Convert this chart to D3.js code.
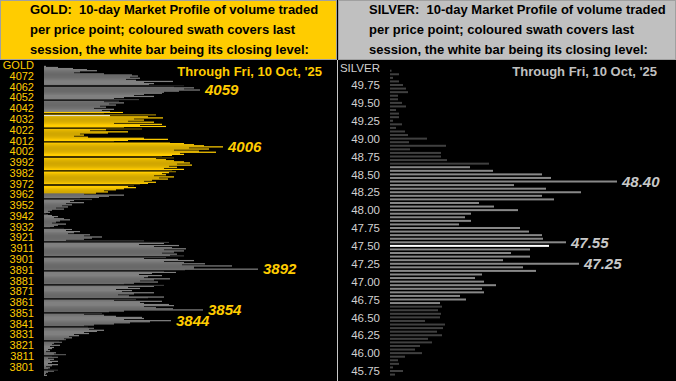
<!DOCTYPE html>
<html><head><meta charset="utf-8">
<script src="https://cdn.jsdelivr.net/npm/d3@7/dist/d3.min.js"></script>
<style>html,body{margin:0;padding:0;background:#000;}svg{display:block;font-family:Arial,"Liberation Sans",sans-serif;}</style>
</head><body><svg id="c" width="676" height="381"></svg>
<script>
// ---------- DATA ----------
const goldTop = 4081, goldBottom = 3793; // one bar per $1
const goldVolume = [
 2,14,29,43,53,36,30,60,88,94,
 86,96,82,92,129,100,110,105,140,130,
 150,140,156,135,120,118,100,90,110,80,
 70,95,75,60,80,65,72,56,62,50,
 70,58,66,79,60,112,66,104,119,90,
 100,84,110,70,118,96,122,80,98,62,
 46,84,64,36,40,30,44,100,124,84,
 70,126,140,150,160,179,145,165,130,155,
 172,136,140,128,118,130,112,122,130,140,
 146,133,148,125,133,120,140,128,132,125,
 118,122,110,130,115,124,108,100,112,104,
 96,90,84,92,80,72,60,64,52,40,
 80,65,55,36,48,30,26,40,22,28,
 18,24,12,20,8,4,6,2,4,8,
 14,10,20,26,16,12,8,22,14,10,
 6,20,28,22,36,30,24,46,40,58,
 48,40,22,100,125,120,95,135,110,128,
 142,120,140,130,118,133,126,140,122,100,
 134,150,120,140,161,138,188,150,150,214,
 141,120,132,108,95,118,104,100,126,110,
 96,114,90,80,120,110,84,96,72,88,
 78,110,90,74,85,120,104,92,70,118,
 96,100,125,130,100,112,129,159,80,65,
 58,40,60,72,98,100,80,127,106,86,
 70,50,40,44,50,45,60,53,40,45,
 30,35,25,28,20,22,15,18,10,8,
 16,6,10,8,4,6,2,12,10,22,
 8,14,4,10,6,14,8,4,14,8,
 2,6,4,14,10,4,2,1,3
];
const goldSwath = [3963, 4038];
const goldClose = 4035;
const goldTicks = ["4072","4062","4052","4042","4032","4022","4012","4002","3992","3982","3972","3962","3952","3942","3932","3921","3911","3901","3891","3881","3871","3861","3851","3841","3831","3821","3811","3801"];
const goldGrid = [4062.7,4049.6,4036.6,4023.5,4010.5,3996.5,3983.5,3970.4,3957.4,3943.4,3930.3,3917.3,3903.3,3890.3,3877.2,3864.2,3851.1,3838.1,3825.0,3811.0,3798.0];
const goldPeaks = [4059, 4006, 3892, 3854, 3844];

const silverTop = 49.95, silverBottom = 45.70; // one bar per $0.05
const silverVolume = [
 1.5,9,3,9,13,16,18,8,8,12,
 16,6,9,9,3,12,6,15,18,37,
 19,56,20,51,51,57,99,80,103,152,
 161,227,124,156,191,152,164,89,104,128,
 81,75,81,69,130,139,152,153,176,159,
 140,121,140,113,189,133,146,92,85,94,
 106,92,94,70,76,50,52,48,51,50,
 35,55,53,47,52,38,42,30,25,32,
 15,8,9,3,13,5
];
const silverSwath = [46.70, 48.60];
const silverClose = 47.50;
const silverTicks = [49.75,49.50,49.25,49.00,48.75,48.50,48.25,48.00,47.75,47.50,47.25,47.00,46.75,46.50,46.25,46.00,45.75];
const silverPeaks = [48.40, 47.55, 47.25];

const goldTitle = ["GOLD:  10-day Market Profile of volume traded","per price point; coloured swath covers last","session, the white bar being its closing level:"];
const silverTitle = ["SILVER:  10-day Market Profile of volume traded","per price point; coloured swath covers last","session, the white bar being its closing level:"];
const throughText = "Through Fri, 10 Oct, '25";

// ---------- DRAW ----------
const svg = d3.select("#c");
const GOLD = "#FFCC00";

const goldPrices = d3.range(goldTop, goldBottom - 0.5, -1);
const gold = goldPrices.map((p, i) => ({p, v: goldVolume[i]}));
const silverPrices = d3.range(0, silverVolume.length).map(i => +(silverTop - i * 0.05).toFixed(2));
const silver = silverPrices.map((p, i) => ({p, v: silverVolume[i]}));

// ---- Gold panel ----
svg.append("rect").attr("x",0).attr("y",0).attr("width",337).attr("height",381).attr("fill","#000");
const yG = d3.scaleLinear().domain([4072, 3801]).range([76, 366.7]);
const xG = d3.scaleLinear().domain([0, 214]).range([44, 258]);
const hG = Math.abs(yG(0) - yG(1));

svg.append("g").selectAll("rect").data(gold).join("rect")
  .attr("x", xG(0))
  .attr("y", d => yG(d.p) - hG/2)
  .attr("width", d => xG(d.v) - xG(0))
  .attr("height", hG + 0.15)
  .attr("fill", d => d.p === goldClose ? "#fff" : (d.p >= goldSwath[0] && d.p <= goldSwath[1] ? GOLD : "#808080"));

svg.append("g").selectAll("line").data(goldGrid).join("line")
  .attr("x1", xG(0)).attr("x2", 336)
  .attr("y1", d => yG(d)).attr("y2", d => yG(d))
  .attr("stroke", "#000").attr("stroke-width", 1.3);

const tG = d3.scalePoint().domain(goldTicks).range([76, 366.7]);
svg.append("g").selectAll("text").data(goldTicks).join("text")
  .attr("x", 34).attr("y", d => tG(d)).attr("dy", "0.36em")
  .attr("text-anchor", "end").attr("fill", GOLD).attr("font-size", "11px")
  .text(d => d);
svg.append("text").attr("x",34).attr("y",65).attr("dy","0.36em").attr("text-anchor","end")
  .attr("fill",GOLD).attr("font-size","11px").text("GOLD");

svg.append("g").selectAll("text").data(goldPeaks).join("text")
  .attr("x", d => xG(gold.find(g => g.p === d).v) + 5)
  .attr("y", d => yG(d)).attr("dy", "0.36em")
  .attr("fill", GOLD).attr("font-size", "15px").attr("font-weight","bold").attr("font-style","italic")
  .text(d => d);

svg.append("text").attr("x",322).attr("y",75.7).attr("text-anchor","end")
  .attr("fill",GOLD).attr("font-size","13px").attr("font-weight","bold").text(throughText);

svg.append("line").attr("x1",337.5).attr("x2",337.5).attr("y1",60).attr("y2",381).attr("stroke","#c8c8c8").attr("stroke-width",1);

// gold header
svg.append("rect").attr("x",0.5).attr("y",0.5).attr("width",336).attr("height",59).attr("fill",GOLD).attr("stroke","#a0a0a0").attr("stroke-width",1);
svg.append("g").selectAll("text").data(goldTitle).join("text")
  .attr("x",30).attr("y",(d,i)=>14.3 + i*19.6).attr("fill","#000")
  .attr("font-size","13px").attr("font-weight","bold").style("white-space","pre").text(d=>d);

// ---- Silver panel ----
const yS = d3.scaleLinear().domain([49.75, 45.75]).range([85, 371]);
const xS = d3.scaleLinear().domain([0, 227]).range([390, 617]);

svg.append("g").selectAll("rect").data(silver).join("rect")
  .attr("x", xS(0))
  .attr("y", d => yS(d.p) - 1)
  .attr("width", d => xS(d.v) - xS(0))
  .attr("height", 2)
  .attr("fill", d => Math.abs(d.p - silverClose) < 1e-6 ? "#fff" : (d.p >= silverSwath[0] - 1e-6 && d.p <= silverSwath[1] + 1e-6 ? "#888888" : "#404040"));

svg.append("g").selectAll("text").data(silverTicks).join("text")
  .attr("x", 380).attr("y", d => yS(d)).attr("dy","0.36em")
  .attr("text-anchor","end").attr("fill","#d0d0d0").attr("font-size","11.5px")
  .text(d => d3.format(".2f")(d));
svg.append("text").attr("x",380).attr("y",67.5).attr("dy","0.36em").attr("text-anchor","end")
  .attr("fill","#d0d0d0").attr("font-size","11.5px").text("SILVER");

svg.append("g").selectAll("text").data(silverPeaks).join("text")
  .attr("x", d => xS(silver.find(s => Math.abs(s.p - d) < 1e-6).v) + 5)
  .attr("y", d => yS(d)).attr("dy","0.36em")
  .attr("fill","#c8c8c8").attr("font-size","15px").attr("font-weight","bold").attr("font-style","italic")
  .text(d => d3.format(".2f")(d));

svg.append("text").attr("x",657).attr("y",75.7).attr("text-anchor","end")
  .attr("fill","#c0c0c0").attr("font-size","13px").attr("font-weight","bold").text(throughText);

svg.append("rect").attr("x",338.5).attr("y",0.5).attr("width",337).attr("height",59).attr("fill","#c0c0c0").attr("stroke","#a0a0a0").attr("stroke-width",1);
svg.append("g").selectAll("text").data(silverTitle).join("text")
  .attr("x",369).attr("y",(d,i)=>14.3 + i*19.6).attr("fill","#000")
  .attr("font-size","13px").attr("font-weight","bold").style("white-space","pre").text(d=>d);
</script></body></html>
